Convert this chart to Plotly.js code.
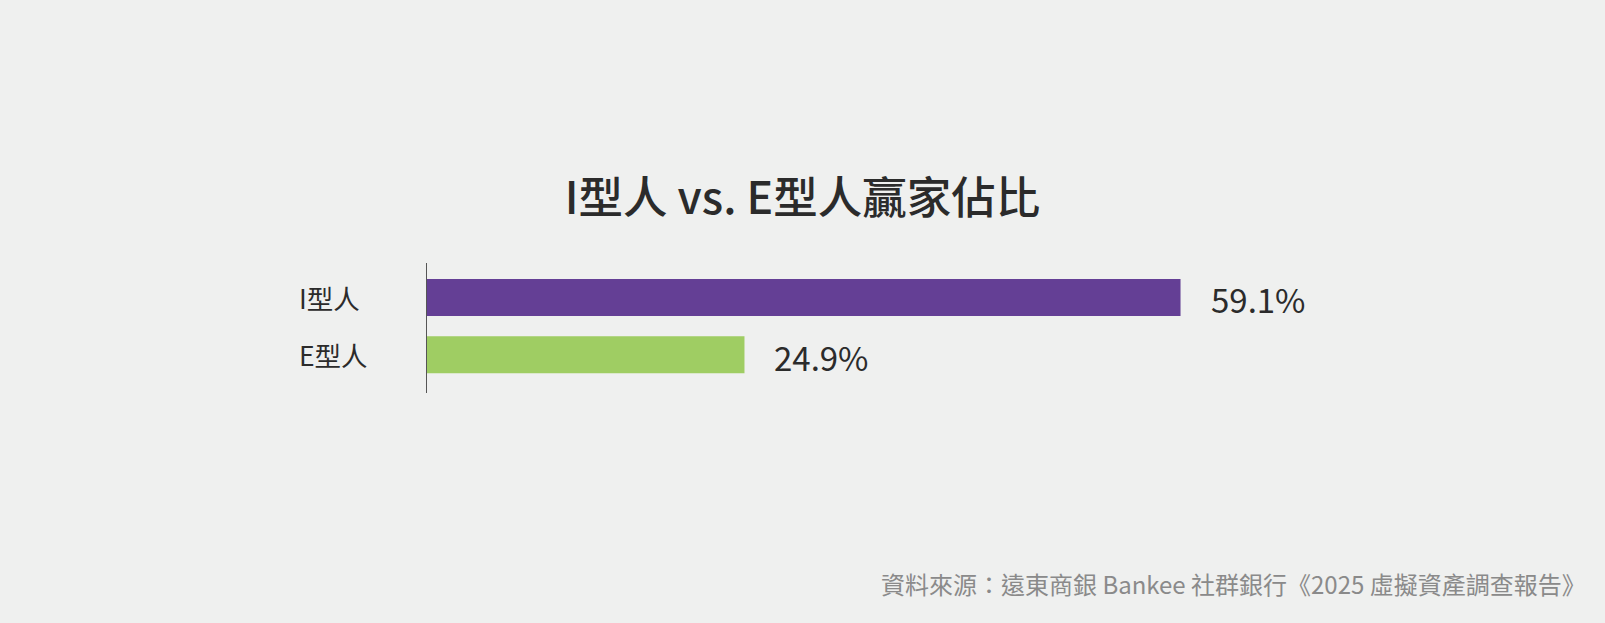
<!DOCTYPE html>
<html>
<head>
<meta charset="utf-8">
<script src="https://cdn.plot.ly/plotly-3.0.1.min.js"></script>
<style>
html,body{margin:0;padding:0;background:#eff0ef;}
#chart{width:1605px;height:623px;}
</style>
</head>
<body>
<div id="chart"></div>
<script>
const categories = ["I型人", "E型人"];
const values = [59.1, 24.9];
const barColors = ["#643f95", "#9fcd63"];
const chartTitle = "I型人 vs. E型人贏家佔比";
const sourceNote = "資料來源：遠東商銀 Bankee 社群銀行《2025 虛擬資產調查報告》";

const W = 1605, H = 623;
const mL = 427, mR = 205, mT = 263, mB = 230;
const plotW = W - mL - mR;
const pxPerUnit = 12.75;
const FONT = '"Noto Sans CJK TC", "Noto Sans", sans-serif';

const trace = {
  type: 'bar',
  orientation: 'h',
  x: values,
  y: [0, 1],
  width: 0.645,
  marker: {color: barColors, line: {width: 0}},
  hoverinfo: 'skip'
};

const annotations = [];
categories.forEach((c, i) => {
  annotations.push({
    xref: 'paper', yref: 'y',
    x: (297 - mL) / plotW, y: i,
    xanchor: 'left', yanchor: 'middle',
    text: c, showarrow: false,
    font: {family: FONT, size: 26.5, color: '#2b2b2b'}
  });
  annotations.push({
    xref: 'x', yref: 'y',
    x: values[i], y: i,
    xanchor: 'left', yanchor: 'middle',
    xshift: 28, yshift: -2,
    text: values[i].toFixed(1) + '%', showarrow: false,
    font: {family: FONT, size: 33, color: '#2b2b2b'}
  });
});
annotations.push({
  xref: 'paper', yref: 'paper',
  x: (1588 - mL) / plotW, y: -(583 - (H - mB)) / (H - mT - mB),
  xanchor: 'right', yanchor: 'middle',
  text: sourceNote, showarrow: false,
  font: {family: FONT, size: 24, color: '#8a8a8a'}
});

const layout = {
  width: W, height: H,
  paper_bgcolor: '#eff0ef', plot_bgcolor: '#eff0ef',
  margin: {l: mL, r: mR, t: mT, b: mB, pad: 0},
  showlegend: false,
  title: {
    text: chartTitle,
    xref: 'container', yref: 'container',
    x: 0.5, xanchor: 'center',
    y: 1 - 198 / H, yanchor: 'middle',
    font: {family: FONT, size: 44.5, color: '#2b2b2b', weight: 500}
  },
  xaxis: {
    range: [0, plotW / pxPerUnit],
    showgrid: false, zeroline: false, showline: false,
    showticklabels: false, ticks: ''
  },
  yaxis: {
    range: [1.67, -0.603],
    showgrid: false, zeroline: false,
    showline: true, linecolor: '#555555', linewidth: 1,
    showticklabels: false, ticks: ''
  },
  annotations: annotations
};

Plotly.newPlot('chart', [trace], layout, {staticPlot: true, displayModeBar: false});
</script>
</body>
</html>
